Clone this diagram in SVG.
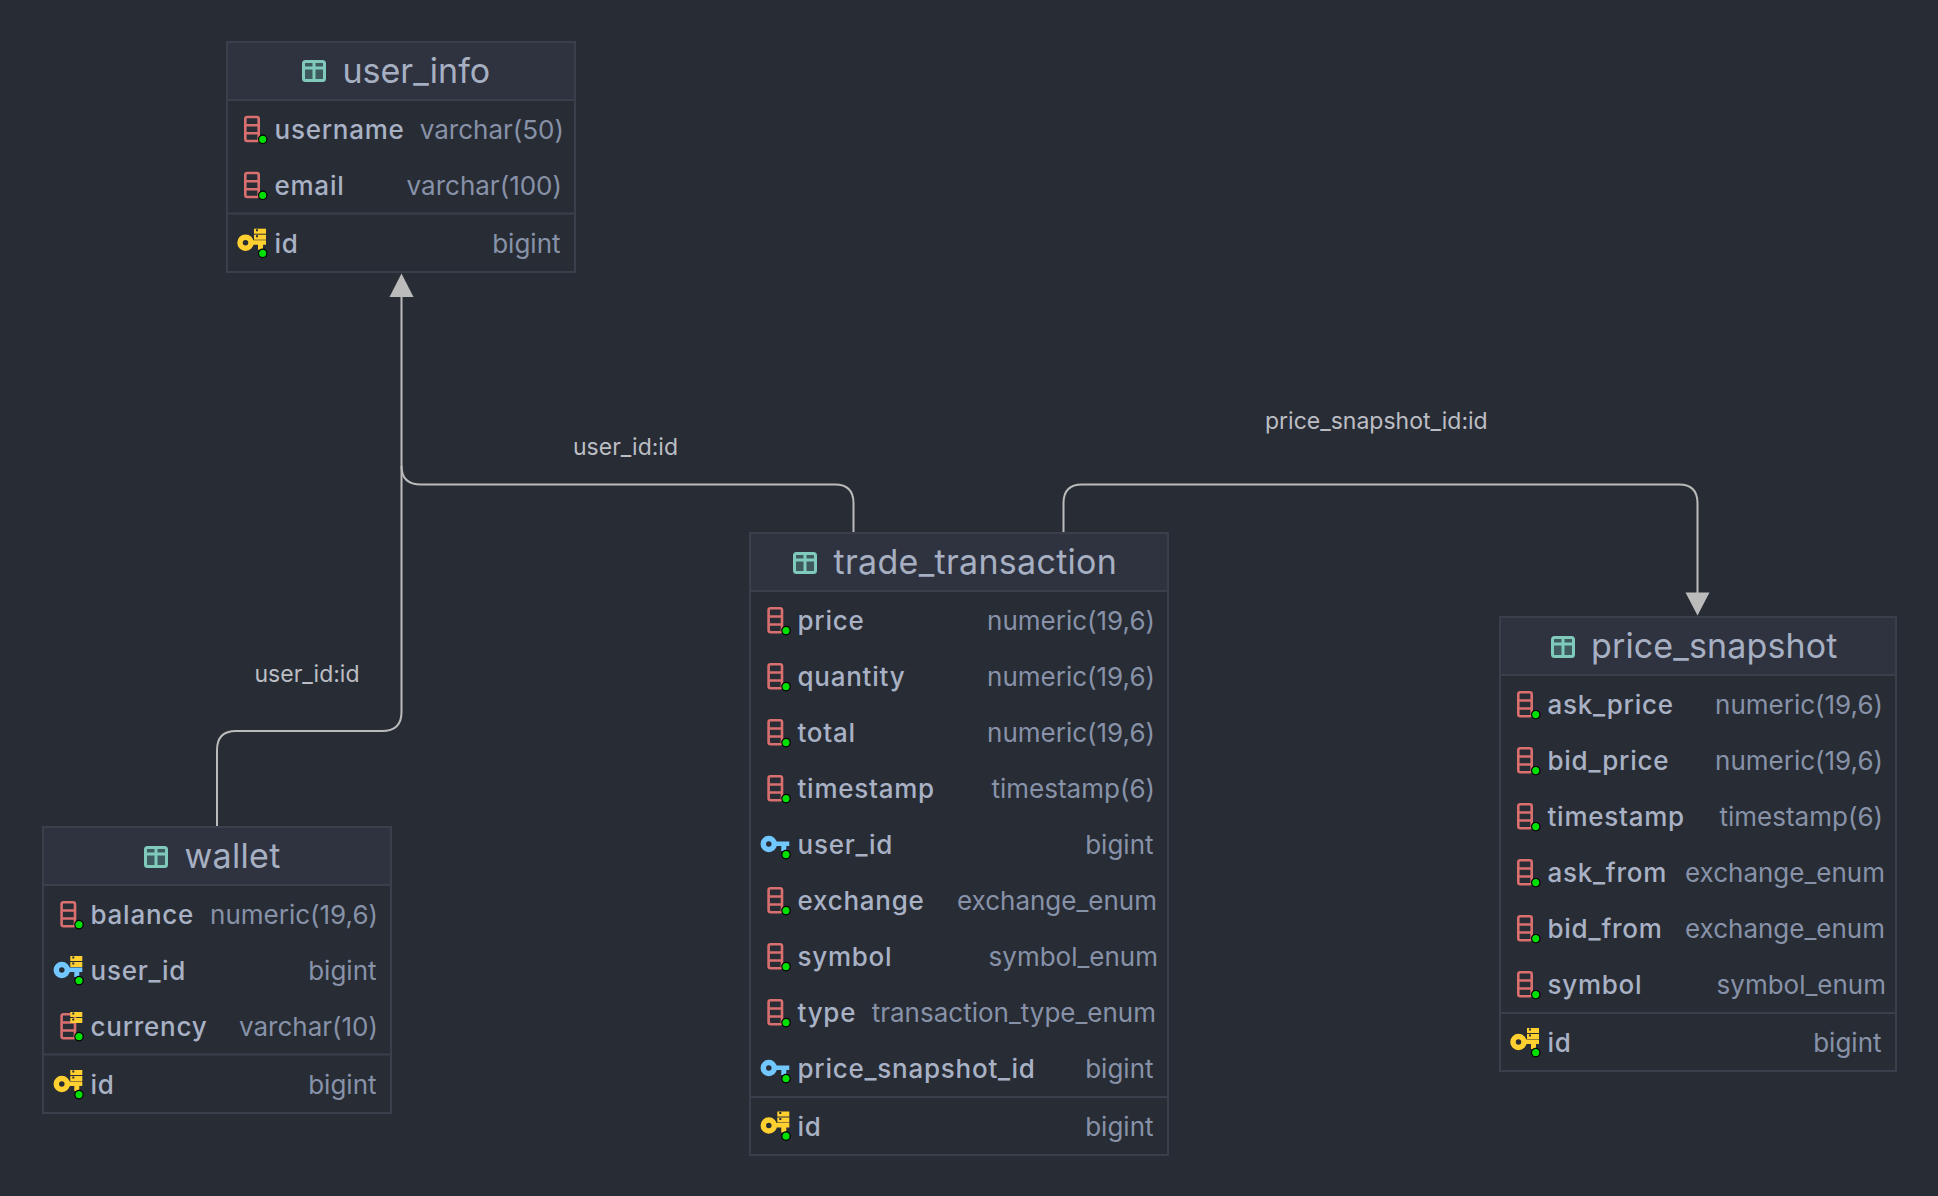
<svg xmlns="http://www.w3.org/2000/svg" width="1938" height="1196" viewBox="0 0 1938 1196">
<style>
text{font-family:Inter,"Noto Sans","Liberation Sans",sans-serif}
.box{fill:#282c35;stroke:#3b3f4b;stroke-width:2}
.head{fill:#2f333f}
.div{stroke:#3b3f4b;stroke-width:2}
.t{font-size:34px;fill:#a7b0c3;letter-spacing:.3px}
.n{font-size:26px;font-weight:500;fill:#a9b2c5;letter-spacing:.75px}
.y{font-size:26px;fill:#8792a8;text-anchor:end}
.l{font-size:23px;fill:#bcbec4}
.c{fill:none;stroke:#bbb;stroke-width:2}
.a{fill:#bbb}
</style>
<defs>
<g id="tbl"><rect x="1.5" y="1.5" width="21" height="19" rx="2" fill="#3f5a5f" stroke="#7fcabb" stroke-width="3"/><path d="M1 8H23M12 2V20" stroke="#7fcabb" stroke-width="3" fill="none"/></g>
<g id="dot"><circle cx="-12.3" cy="0.6" r="4.200" fill="#00e000" stroke="#000" stroke-width="1.2"/></g>
<g id="col"><rect x="-29.700" y="-21.700" width="13.400" height="24" rx="2" fill="none" stroke="#d96f6f" stroke-width="2.600"/><path d="M-29 -13.500H-17M-29 -5.500H-17" stroke="#d96f6f" stroke-width="2.400"/><use href="#dot"/></g>
<g id="sto"><rect x="-21" y="-24" width="12" height="5" fill="#ffd02f"/><rect x="-21" y="-18" width="12" height="5" fill="#ffd02f"/><path d="M-19 -22.500h2M-19 -16.500h2" stroke="#282c34" stroke-width="2"/></g>
<g id="keyb"><circle cx="-29.500" cy="-10" r="5.500" fill="none" stroke="#73c7ff" stroke-width="5.500"/><path d="M-24 -12.500H-9V-8H-12V-3H-17V-8H-24Z" fill="#73c7ff"/><use href="#dot"/></g>
<g id="keyy"><circle cx="-29.500" cy="-10" r="5.500" fill="none" stroke="#ffd02f" stroke-width="5.500"/><path d="M-24 -12.500H-9V-8H-12V-3H-17V-8H-24Z" fill="#ffd02f"/><use href="#sto"/><use href="#dot"/></g>
</defs>
<rect width="1938" height="1196" fill="#282c35"/>

<g id="connectors">
<path class="c" d="M217 827V750Q217 731 236 731H382Q401.500 731 401.500 712V295"/>
<path class="c" d="M853.500 532V503Q853.500 484.500 835 484.500H421Q401.500 484.500 401.500 466"/>
<path class="c" d="M1063.500 532V503Q1063.500 484.500 1082 484.500H1679Q1697.500 484.500 1697.500 503V594"/>
<path class="a" d="M401.500 273.500L413.500 297H389.500Z"/>
<path class="a" d="M1697.500 615.500L1685.500 592.500H1709.500Z"/>
<text class="l" x="573" y="454.500">user_id:id</text>
<text class="l" x="254.500" y="681.500">user_id:id</text>
<text class="l" x="1265" y="428.500">price_snapshot_id:id</text>
</g>

<g id="user_info">
<rect class="box" x="227" y="42" width="348" height="230"/>
<rect class="head" x="228" y="43" width="346" height="57"/>
<path class="div" d="M228 100H574M228 213.500H574"/>
<use href="#tbl" x="302" y="60"/>
<text class="t" style="letter-spacing:0" x="342.500" y="83">user_info</text>
<use href="#col" x="275" y="138.700"/><text class="n" x="274.500" y="138.700">username</text><text class="y" x="564" y="138.700">varchar(50)</text>
<use href="#col" x="275" y="194.700"/><text class="n" x="274.500" y="194.700">email</text><text class="y" x="562" y="194.700">varchar(100)</text>
<use href="#keyy" x="275" y="252.700"/><text class="n" x="274.500" y="252.700">id</text><text class="y" x="560.500" y="252.700">bigint</text>
</g>

<g id="wallet">
<rect class="box" x="43" y="827" width="348" height="286"/>
<rect class="head" x="44" y="828" width="346" height="57"/>
<path class="div" d="M44 885H390M44 1054.500H390"/>
<use href="#tbl" x="144" y="846"/>
<text class="t" x="184.500" y="868">wallet</text>
<use href="#col" x="91.300" y="924"/><text class="n" x="90.500" y="924">balance</text><text class="y" x="378" y="924">numeric(19,6)</text>
<use href="#keyb" x="91.300" y="980"/><use href="#sto" x="91.300" y="980"/><text class="n" x="90.500" y="980">user_id</text><text class="y" x="376.500" y="980">bigint</text>
<use href="#col" x="91.300" y="1036"/><use href="#sto" x="91.300" y="1036"/><text class="n" x="90.500" y="1036">currency</text><text class="y" x="378" y="1036">varchar(10)</text>
<use href="#keyy" x="91.300" y="1094"/><text class="n" x="90.500" y="1094">id</text><text class="y" x="376.500" y="1094">bigint</text>
</g>

<g id="trade_transaction">
<rect class="box" x="750" y="533" width="418" height="622"/>
<rect class="head" x="751" y="534" width="416" height="57"/>
<path class="div" d="M751 591H1167M751 1097H1167"/>
<use href="#tbl" x="793" y="552"/>
<text class="t" x="833.500" y="574">trade_transaction</text>
<use href="#col" x="798.300" y="630"/><text class="n" x="797.500" y="630">price</text><text class="y" x="1155" y="630">numeric(19,6)</text>
<use href="#col" x="798.300" y="686"/><text class="n" x="797.500" y="686">quantity</text><text class="y" x="1155" y="686">numeric(19,6)</text>
<use href="#col" x="798.300" y="742"/><text class="n" x="797.500" y="742">total</text><text class="y" x="1155" y="742">numeric(19,6)</text>
<use href="#col" x="798.300" y="798"/><text class="n" x="797.500" y="798">timestamp</text><text class="y" x="1155" y="798">timestamp(6)</text>
<use href="#keyb" x="798.300" y="854"/><text class="n" x="797.500" y="854">user_id</text><text class="y" x="1153.500" y="854">bigint</text>
<use href="#col" x="798.300" y="910"/><text class="n" x="797.500" y="910">exchange</text><text class="y" x="1157" y="910">exchange_enum</text>
<use href="#col" x="798.300" y="966"/><text class="n" x="797.500" y="966">symbol</text><text class="y" x="1158" y="966">symbol_enum</text>
<use href="#col" x="798.300" y="1022"/><text class="n" x="797.500" y="1022">type</text><text class="y" x="1156" y="1022">transaction_type_enum</text>
<use href="#keyb" x="798.300" y="1078"/><text class="n" x="797.500" y="1078">price_snapshot_id</text><text class="y" x="1153.500" y="1078">bigint</text>
<use href="#keyy" x="798.300" y="1135.500"/><text class="n" x="797.500" y="1135.500">id</text><text class="y" x="1153.500" y="1135.500">bigint</text>
</g>

<g id="price_snapshot">
<rect class="box" x="1500" y="617" width="396" height="454"/>
<rect class="head" x="1501" y="618" width="394" height="57"/>
<path class="div" d="M1501 675H1895M1501 1013H1895"/>
<use href="#tbl" x="1551" y="636"/>
<text class="t" style="letter-spacing:.13px" x="1591" y="657.500">price_snapshot</text>
<use href="#col" x="1548" y="714"/><text class="n" x="1547.500" y="714">ask_price</text><text class="y" x="1883" y="714">numeric(19,6)</text>
<use href="#col" x="1548" y="770"/><text class="n" x="1547.500" y="770">bid_price</text><text class="y" x="1883" y="770">numeric(19,6)</text>
<use href="#col" x="1548" y="826"/><text class="n" x="1547.500" y="826">timestamp</text><text class="y" x="1883" y="826">timestamp(6)</text>
<use href="#col" x="1548" y="882"/><text class="n" x="1547.500" y="882">ask_from</text><text class="y" x="1885" y="882">exchange_enum</text>
<use href="#col" x="1548" y="938"/><text class="n" x="1547.500" y="938">bid_from</text><text class="y" x="1885" y="938">exchange_enum</text>
<use href="#col" x="1548" y="994"/><text class="n" x="1547.500" y="994">symbol</text><text class="y" x="1886" y="994">symbol_enum</text>
<use href="#keyy" x="1548" y="1052"/><text class="n" x="1547.500" y="1052">id</text><text class="y" x="1881.500" y="1052">bigint</text>
</g>
</svg>
